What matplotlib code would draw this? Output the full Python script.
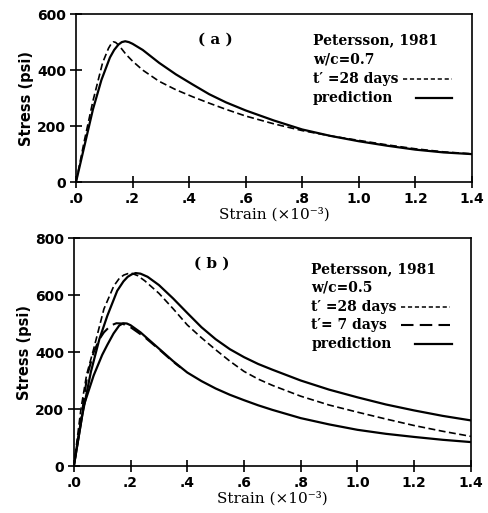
import numpy as np
import matplotlib
matplotlib.use("Agg")
import matplotlib.pyplot as plt

plt.rcParams['lines.scale_dashes'] = False
plt.rcParams['lines.solid_joinstyle'] = 'round'
plt.rcParams['lines.dash_joinstyle'] = 'round'

# ---- panel (a): w/c = 0.7, t' = 28 days ----
a_test_x = [0, 0.03, 0.06, 0.094, 0.115, 0.125, 0.132, 0.14, 0.15, 0.163, 0.177, 0.2,
            0.236, 0.294, 0.353, 0.412, 0.471, 0.53, 0.6, 0.7, 0.8, 0.9, 1.0, 1.1,
            1.2, 1.3, 1.4]
a_test_y = [0, 150, 290, 426, 478, 495, 501, 499, 490, 474, 456, 432,
            400, 360, 330, 305, 282, 260, 236, 208, 184, 165, 149, 133,
            119, 108, 101]
a_pred_x = [0, 0.03, 0.06, 0.09, 0.12, 0.135, 0.15, 0.162, 0.174, 0.187, 0.2, 0.236,
            0.294, 0.353, 0.412, 0.471, 0.53, 0.6, 0.7, 0.8, 0.9, 1.0, 1.1, 1.2,
            1.3, 1.4]
a_pred_y = [0, 130, 260, 365, 445, 472, 491, 500, 503, 500, 494, 472,
            426, 385, 349, 314, 285, 256, 220, 188, 165, 146, 130, 116,
            106, 100]

# ---- panel (b): w/c = 0.5 ----
b_t28_x = [0, 0.025, 0.045, 0.07, 0.106, 0.141, 0.16, 0.176, 0.19, 0.205, 0.225, 0.25,
           0.3, 0.35, 0.4, 0.45, 0.5, 0.55, 0.6, 0.65, 0.7, 0.8, 0.9, 1.0, 1.1,
           1.2, 1.3, 1.4]
b_t28_y = [0, 200, 320, 411, 551, 632, 658, 670, 675, 676, 668, 650,
           606, 552, 495, 450, 408, 368, 332, 305, 283, 245, 214, 189, 165,
           142, 122, 104]
b_t7_x = [0, 0.025, 0.047, 0.07, 0.09, 0.106, 0.13, 0.15, 0.17, 0.2, 0.25, 0.3,
          0.35, 0.376]
b_t7_y = [0, 160, 317, 399, 445, 469, 493, 501, 500, 487, 452, 410,
          366, 346]
b_p28_x = [0, 0.03, 0.06, 0.09, 0.118, 0.153, 0.175, 0.19, 0.205, 0.218, 0.235, 0.26,
           0.3, 0.35, 0.4, 0.45, 0.5, 0.55, 0.6, 0.65, 0.7, 0.8, 0.9, 1.0, 1.1,
           1.2, 1.3, 1.4]
b_p28_y = [0, 180, 330, 445, 527, 615, 648, 664, 673, 677, 675, 664,
           635, 588, 537, 487, 445, 410, 382, 358, 338, 300, 268, 241, 216,
           195, 176, 160]
b_p7_x = [0, 0.035, 0.07, 0.1, 0.118, 0.14, 0.16, 0.174, 0.187, 0.2, 0.235, 0.3,
          0.35, 0.4, 0.45, 0.5, 0.55, 0.6, 0.65, 0.7, 0.8, 0.9, 1.0, 1.1, 1.2,
          1.3, 1.4]
b_p7_y = [0, 212, 318, 390, 425, 465, 493, 501, 500, 494, 469, 412,
          368, 328, 298, 272, 250, 231, 213, 197, 168, 146, 127, 113, 102,
          92, 84]

x_ticks = [0, 0.2, 0.4, 0.6, 0.8, 1.0, 1.2, 1.4]
x_ticklabels = ['.0', '.2', '.4', '.6', '.8', '1.0', '1.2', '1.4']

SHORT = (5, 2.5)
LONG = (9, 4.5)
serif = 'DejaVu Serif'

fig = plt.figure(figsize=(4.89, 5.13), dpi=100)
ax1 = fig.add_axes([0.1554, 0.645, 0.8096, 0.3275])
ax2 = fig.add_axes([0.151, 0.0916, 0.812, 0.4444])


def style_axes(ax, ymax, yticks):
    ax.set_xlim(0, 1.4)
    ax.set_ylim(0, ymax)
    ax.set_xticks(x_ticks)
    ax.set_xticklabels(x_ticklabels)
    ax.set_yticks(yticks)
    ax.tick_params(direction='inout', length=8, width=1.2, labelsize=10, pad=3)
    for lab in ax.get_xticklabels() + ax.get_yticklabels():
        lab.set_fontweight('bold')
    for s in ax.spines.values():
        s.set_linewidth(1.2)
    ax.set_ylabel('Stress (psi)', fontsize=10.5, fontweight='bold', labelpad=2)
    ax.set_xlabel('Strain (×10⁻³)', fontsize=11, family=serif, labelpad=1)


def key(ax, lines, y0, dy, samples):
    for i, t in enumerate(lines):
        ax.text(0.598, y0 - i * dy, t, transform=ax.transAxes, fontsize=10,
                fontweight='bold', family=serif, va='center', ha='left')
    for row, x0, x1, kw in samples:
        ax.plot([x0, x1], [y0 - row * dy] * 2, transform=ax.transAxes,
                color='black', clip_on=False, **kw)


# (a)
ax1.plot(a_test_x, a_test_y, color='black', lw=1.2, dashes=SHORT)
ax1.plot(a_pred_x, a_pred_y, color='black', lw=1.6)
style_axes(ax1, 600, [0, 200, 400, 600])
ax1.text(0.353, 0.846, '( a )', transform=ax1.transAxes, fontsize=11,
         fontweight='bold', family=serif, ha='center', va='center')
key(ax1, ['Petersson, 1981', 'w/c=0.7', 't′ =28 days', 'prediction'], 0.846, 0.115,
    [(2, 0.825, 0.949, dict(lw=1.1, dashes=(3, 2))),
     (3, 0.86, 0.949, dict(lw=1.6))])

# (b)
ax2.plot(b_t28_x, b_t28_y, color='black', lw=1.2, dashes=SHORT)
ax2.plot(b_t7_x, b_t7_y, color='black', lw=1.5, dashes=LONG)
ax2.plot(b_p28_x, b_p28_y, color='black', lw=1.6)
ax2.plot(b_p7_x, b_p7_y, color='black', lw=1.6)
style_axes(ax2, 800, [0, 200, 400, 600, 800])
ax2.text(0.348, 0.886, '( b )', transform=ax2.transAxes, fontsize=11,
         fontweight='bold', family=serif, ha='center', va='center')
key(ax2, ['Petersson, 1981', 'w/c=0.5', 't′ =28 days', 't′= 7 days', 'prediction'],
    0.864, 0.0825,
    [(2, 0.825, 0.947, dict(lw=1.1, dashes=(3, 2))),
     (3, 0.825, 0.947, dict(lw=1.5, dashes=LONG)),
     (4, 0.86, 0.952, dict(lw=1.6))])

fig.savefig('out.png', dpi=100)
